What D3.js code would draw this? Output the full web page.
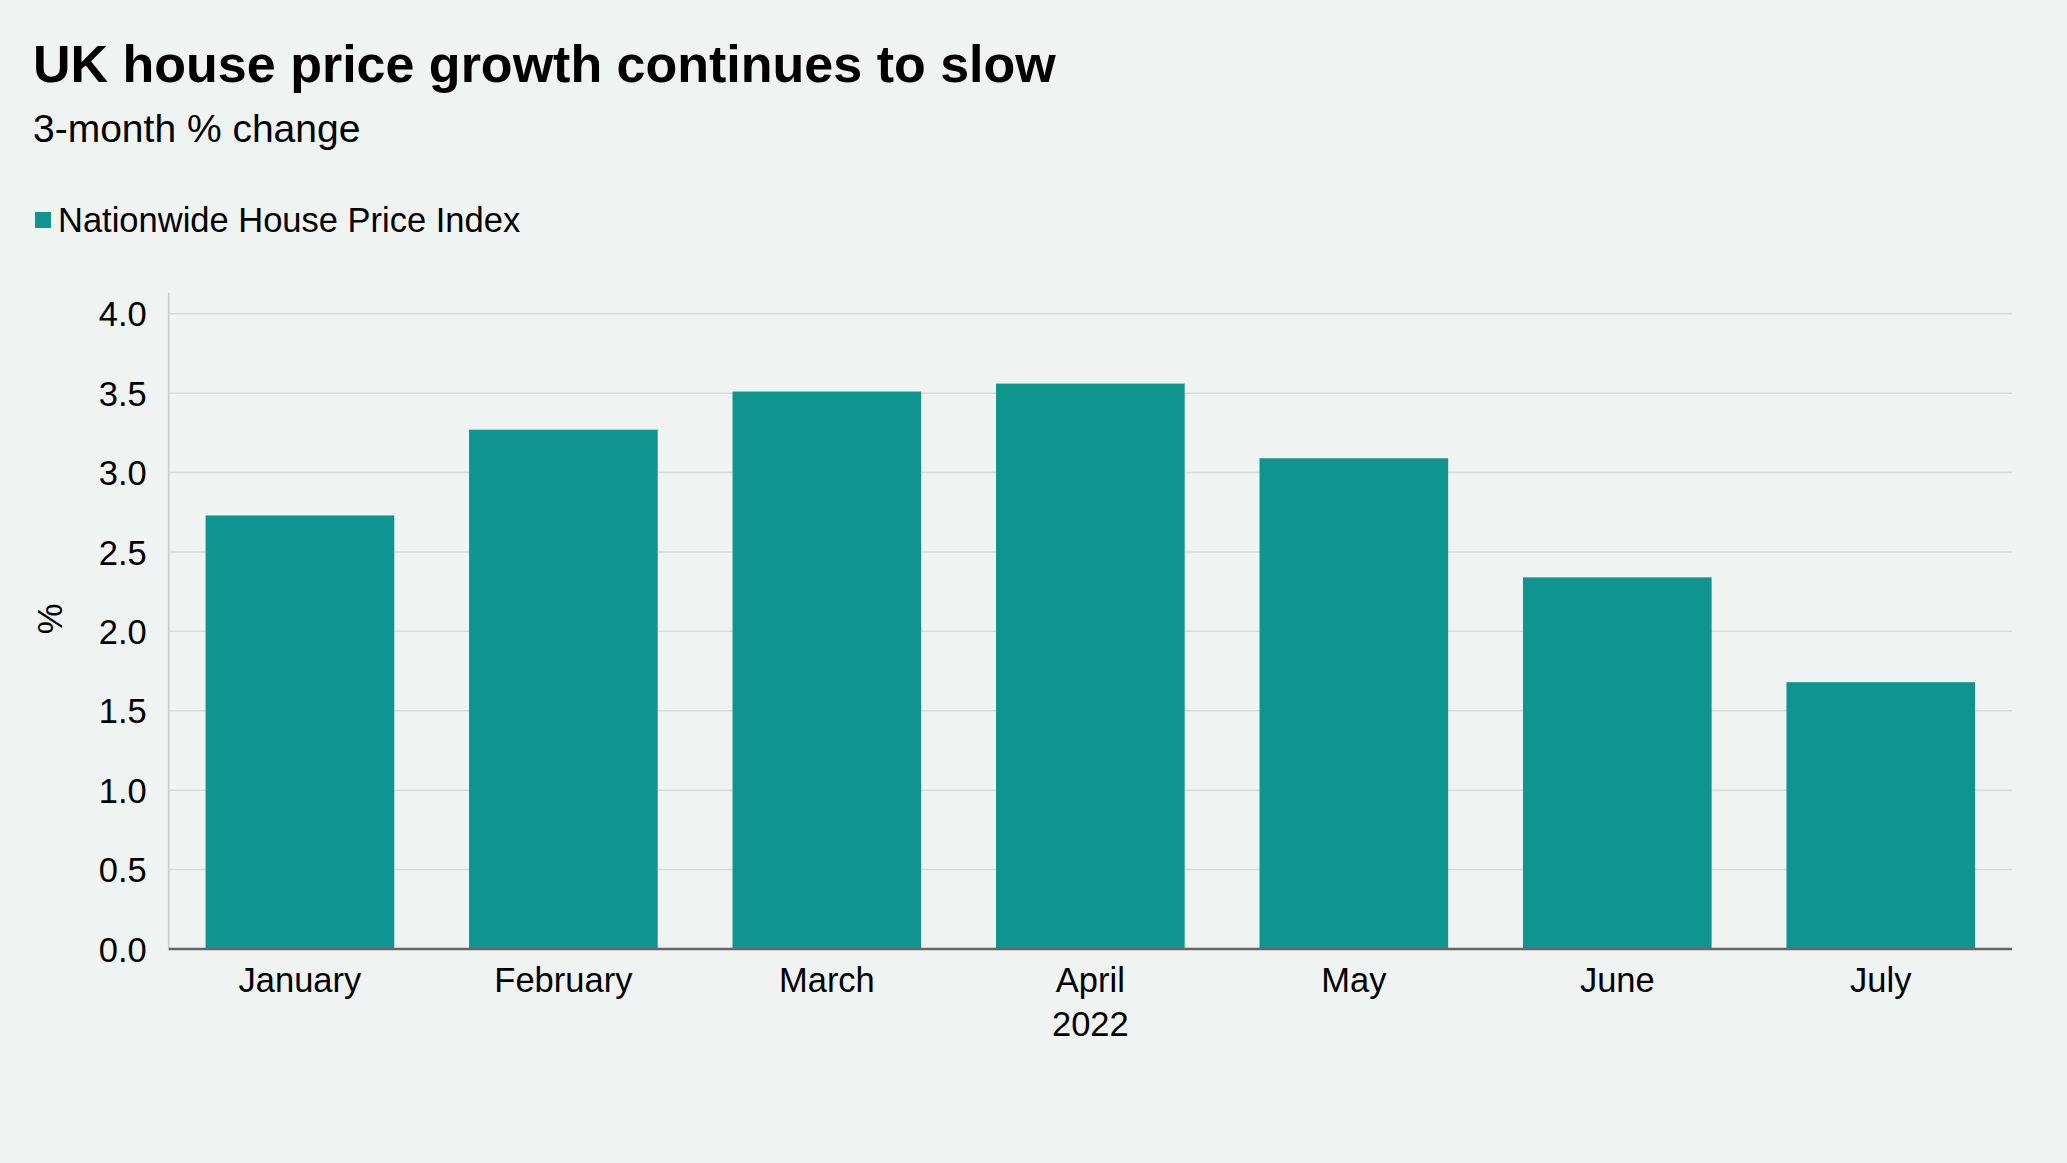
<!DOCTYPE html>
<html>
<head>
<meta charset="utf-8">
<script src="https://cdn.jsdelivr.net/npm/d3@7"></script>
<style>
  html, body { margin: 0; padding: 0; background: #eff3f1; }
  svg { display: block; }
  text { font-family: "Liberation Sans", Arial, sans-serif; fill: #000; }
</style>
</head>
<body>
<script>
const title = "UK house price growth continues to slow";
const subtitle = "3-month % change";
const seriesName = "Nationwide House Price Index";
const months = ["January", "February", "March", "April", "May", "June", "July"];
const values = [2.73, 3.27, 3.51, 3.56, 3.09, 2.34, 1.68];
const yTicks = [0, 0.5, 1.0, 1.5, 2.0, 2.5, 3.0, 3.5, 4.0];
const yearLabel = "2022";
const yAxisLabel = "%";

const W = 2067, H = 1163;
const plotLeft = 168.7, plotRight = 2012, plotTop = 292.6, plotBottom = 949;
const barColor = "#0f9490";

const svg = d3.select("body").append("svg").attr("width", W).attr("height", H);
svg.append("rect").attr("width", W).attr("height", H).attr("fill", "#eff3f1");

svg.append("text").attr("x", 33).attr("y", 82)
  .style("font-size", "52px").style("font-weight", "bold").text(title);
svg.append("text").attr("x", 33).attr("y", 142)
  .style("font-size", "39px").text(subtitle);

// legend
svg.append("rect").attr("x", 35).attr("y", 212).attr("width", 16).attr("height", 16).attr("fill", barColor);
svg.append("text").attr("x", 58).attr("y", 232)
  .style("font-size", "34.5px").text(seriesName);

const x = d3.scaleBand().domain(months).range([plotLeft, plotRight])
  .paddingInner(0.284).paddingOuter(0.14);
const y = d3.scaleLinear().domain([0, 4.133]).range([plotBottom, plotTop]);

// gridlines
svg.append("g").selectAll("line").data(yTicks.filter(d => d > 0)).join("line")
  .attr("x1", plotLeft).attr("x2", plotRight)
  .attr("y1", d => y(d)).attr("y2", d => y(d))
  .attr("stroke", "#d8dcdb").attr("stroke-width", 1.5);

// y axis line
svg.append("line").attr("x1", plotLeft).attr("x2", plotLeft).attr("y1", plotTop).attr("y2", plotBottom)
  .attr("stroke", "#c8cccb").attr("stroke-width", 1.5);

// bars
svg.append("g").selectAll("rect").data(months).join("rect")
  .attr("x", d => x(d)).attr("width", x.bandwidth())
  .attr("y", (d, i) => y(values[i])).attr("height", (d, i) => y(0) - y(values[i]))
  .attr("fill", barColor);

// y axis ticks
const yAxis = d3.axisLeft(y).tickValues(yTicks).tickFormat(d3.format(".1f")).tickSize(0).tickPadding(22);
const gy = svg.append("g").attr("transform", `translate(${plotLeft},0)`).call(yAxis);
gy.select(".domain").remove();
gy.selectAll("text").style("font-size", "34.5px").attr("font-family", null).attr("fill", "#000").attr("dy", "0.35em");

// x axis
const xAxis = d3.axisBottom(x).tickSize(0).tickPadding(19);
const gx = svg.append("g").attr("transform", `translate(0,${plotBottom})`).call(xAxis);
gx.select(".domain").attr("stroke", "#666").attr("stroke-width", 2.5)
  .attr("d", `M${plotLeft},0H${plotRight}`);
gx.selectAll("text").style("font-size", "34.5px").attr("font-family", null).attr("fill", "#000");

svg.append("text").attr("x", x("April") + x.bandwidth() / 2).attr("y", 1036)
  .attr("text-anchor", "middle").style("font-size", "34.5px").text(yearLabel);

svg.append("text").attr("transform", `translate(62,${(plotTop + plotBottom) / 2 - 2}) rotate(-90)`)
  .attr("text-anchor", "middle").style("font-size", "34.5px").text(yAxisLabel);
</script>
</body>
</html>
